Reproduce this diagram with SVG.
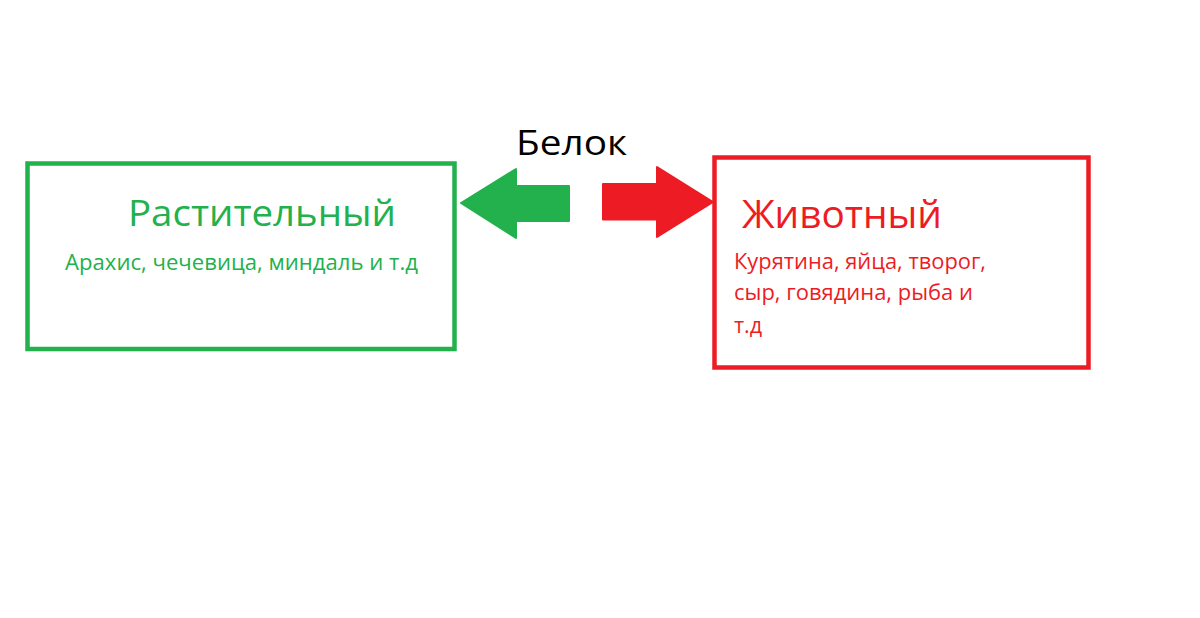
<svg xmlns="http://www.w3.org/2000/svg" width="1200" height="618" viewBox="0 0 1200 618">
<style>
.t{font-family:"Open Sans","Liberation Sans",sans-serif;}
.g{fill:#22b14c;}
.r{fill:#ed1c24;}
.box{fill:none;stroke-width:4.5;}
</style>
<rect width="1200" height="618" fill="#ffffff"/>
<text class="t" x="516" y="155" font-size="34" fill="#000000" textLength="111" lengthAdjust="spacingAndGlyphs">Белок</text>
<g id="plant">
<rect class="box" x="27.5" y="163.5" width="427" height="185.5" stroke="#22b14c"/>
<text class="t g" x="128" y="226" font-size="36.5" textLength="268" lengthAdjust="spacingAndGlyphs">Растительный</text>
<text class="t g" x="65" y="270" font-size="21.5" textLength="353" lengthAdjust="spacingAndGlyphs">Арахис, чечевица, миндаль и т.д</text>
</g>
<g id="animal">
<rect class="box" x="714.5" y="157.5" width="374" height="210" stroke="#ed1c24"/>
<text class="t r" x="742" y="228.3" font-size="39" textLength="200" lengthAdjust="spacingAndGlyphs">Животный</text>
<text class="t r" x="734" y="269.3" font-size="21.5" textLength="252" lengthAdjust="spacingAndGlyphs">Курятина, яйца, творог,</text>
<text class="t r" x="734" y="300" font-size="21.5" textLength="239" lengthAdjust="spacingAndGlyphs">сыр, говядина, рыба и</text>
<text class="t r" x="734" y="332.7" font-size="21.5">т.д</text>
</g>
<g id="connectors">
<path d="M461 203 L516 169 L516 186 L569 186 L569 221 L516 221 L516 238 Z" fill="#22b14c" stroke="#22b14c" stroke-width="2" stroke-linejoin="round"/>
<path d="M713 202 L657 167 L657 184 L603 184 L603 219.5 L657 219.5 L657 237 Z" fill="#ed1c24" stroke="#ed1c24" stroke-width="2" stroke-linejoin="round"/>
</g>
</svg>
